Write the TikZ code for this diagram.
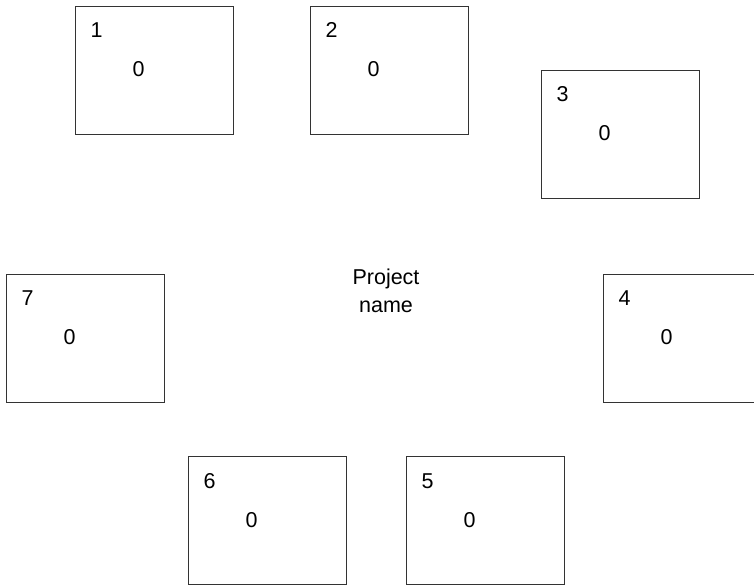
\documentclass[tikz,border=0pt]{standalone}
\usepackage{fontspec}
\setmainfont{Liberation Sans}
\usepackage{tikz}
\usetikzlibrary{positioning}

\begin{document}
\begin{tikzpicture}[
  x=1pt, y=-1pt,                              % image pixels, y downwards
  every node/.style = {font=\fontsize{21.5}{27.4}\selectfont},
  %--- node styles ---------------------------------------------------
  boxst/.style    = {draw=black!80, line width=1pt, rectangle,
                     minimum width=158pt, minimum height=128pt,
                     inner sep=0pt},
  numst/.style    = {anchor=base west, inner sep=0pt},
  zerost/.style   = {anchor=center, inner sep=0pt},
  titlest/.style  = {align=center, inner sep=0pt},
]
\clip (0,0) rectangle (754,584);
\useasboundingbox (0,0) rectangle (754,584);

% ---- Boxes --------------------------------------------------------
\node[boxst] (b1) at (154,70)  {};
\node[boxst] (b2) at (389,70)  {};
\node[boxst] (b3) at (620,134) {};
\node[boxst] (b4) at (682,338) {};
\node[boxst] (b5) at (485,520.5) {};
\node[boxst] (b6) at (267,520.5) {};
\node[boxst] (b7) at (85,338)  {};

% ---- Numbers ------------------------------------------------------
\node[numst] (n1) at ([shift={(16,32)}]b1.north west) {1};
\node[numst] (n2) at ([shift={(16,32)}]b2.north west) {2};
\node[numst] (n3) at ([shift={(16,32)}]b3.north west) {3};
\node[numst] (n4) at ([shift={(16,32)}]b4.north west) {4};
\node[numst] (n5) at ([shift={(16,32)}]b5.north west) {5};
\node[numst] (n6) at ([shift={(16,32)}]b6.north west) {6};
\node[numst] (n7) at ([shift={(16,32)}]b7.north west) {7};

% ---- Counts -------------------------------------------------------
\node[zerost] (z1) at ([shift={(64,64)}]b1.north west) {0};
\node[zerost] (z2) at ([shift={(64,64)}]b2.north west) {0};
\node[zerost] (z3) at ([shift={(64,64)}]b3.north west) {0};
\node[zerost] (z4) at ([shift={(64,64)}]b4.north west) {0};
\node[zerost] (z5) at ([shift={(64,64)}]b5.north west) {0};
\node[zerost] (z6) at ([shift={(64,64)}]b6.north west) {0};
\node[zerost] (z7) at ([shift={(64,64)}]b7.north west) {0};

% ---- Title --------------------------------------------------------
\node[titlest] (title) at (386,291) {Project\\name};

\end{tikzpicture}
\end{document}
